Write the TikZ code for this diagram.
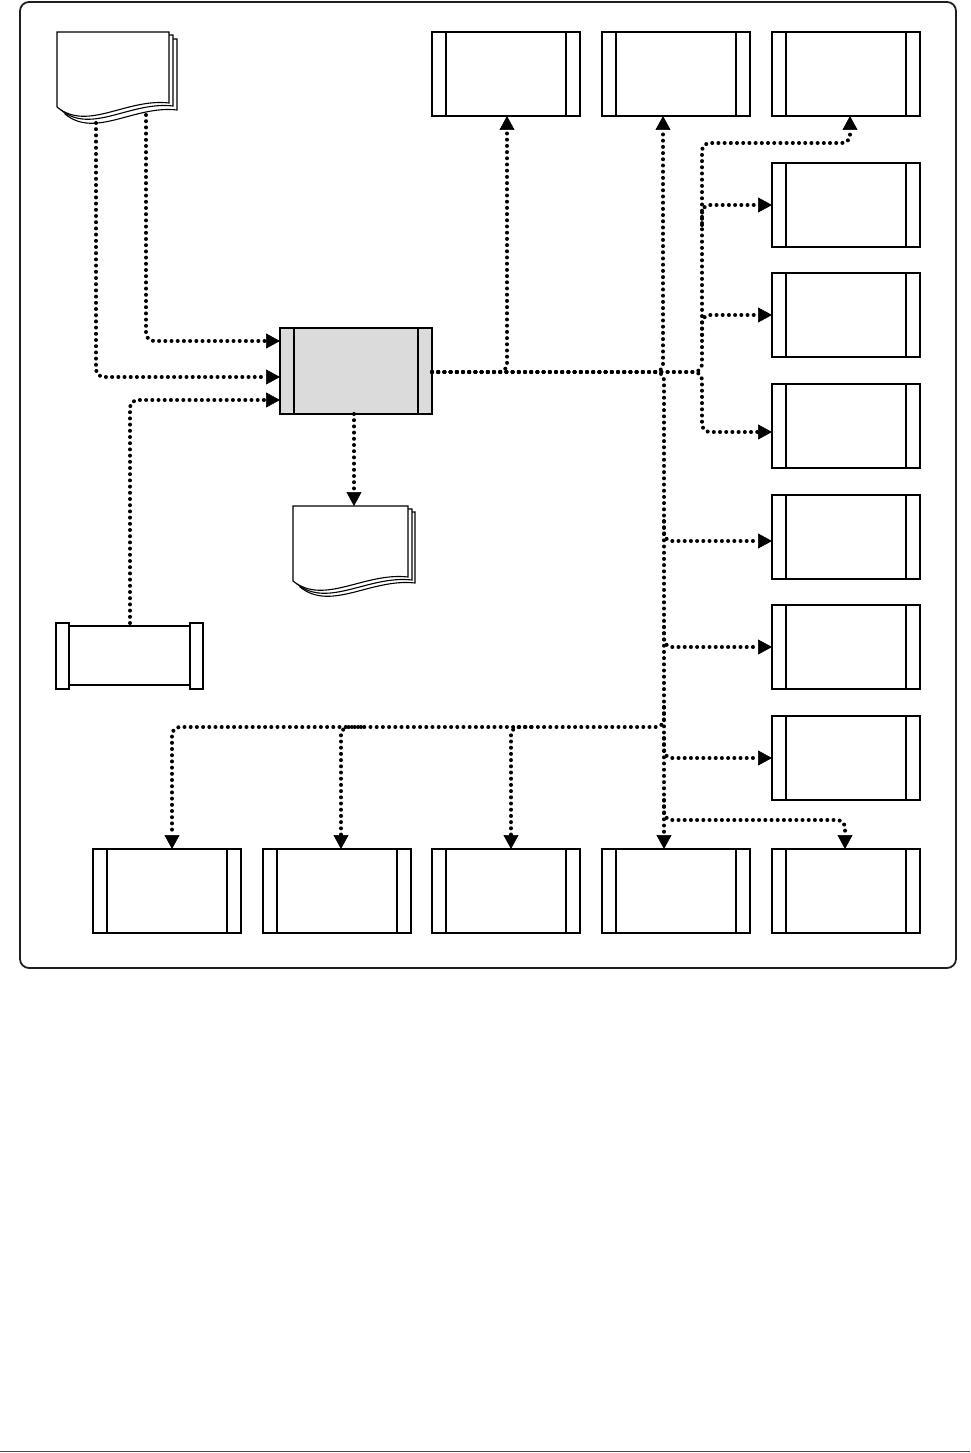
\documentclass[tikz,border=0pt]{standalone}
\usetikzlibrary{arrows.meta}
\begin{document}
\begin{tikzpicture}[x=1pt,y=-1pt,
  box/.style={draw=black, line width=1.2pt, fill=white, minimum width=148pt, minimum height=84pt,
    inner sep=0pt, outer sep=0pt,
    path picture={\draw[line width=2pt]
      ([xshift=14pt]path picture bounding box.north west) -- ([xshift=14pt]path picture bounding box.south west)
      ([xshift=-14pt]path picture bounding box.north east) -- ([xshift=-14pt]path picture bounding box.south east);}},
  conn/.style={line width=4pt, line cap=round, dash pattern=on 0pt off 6.2pt, rounded corners=8pt,
    -{Triangle[length=14pt,width=15pt,line width=0.6pt]}},
  docpage/.pic={\draw[line width=1.1pt, fill=white] (0,0) -- (#1,0) -- (#1,71)
      .. controls ({#1*0.62},66) and ({#1*0.27},100) .. (0,75) -- cycle;}]

\useasboundingbox (0,0) rectangle (970,1453);
\fill[white] (0,0) rectangle (970,1453);

% frame
\draw[line width=1.8pt, rounded corners=9pt, draw=black!88] (20,2) rectangle (956,968);
\draw[line width=1.5pt, draw=black!70] (0,1451.5) -- (970,1451.5);

% documents
\coordinate (doc1) at (57,32);
\pic at ([shift={(8pt,-7pt)}]doc1) {docpage=112};
\pic at ([shift={(4pt,-3pt)}]doc1) {docpage=112};
\pic at (doc1) {docpage=112};
\coordinate (d1a) at (96,123);
\coordinate (d1b) at (146,115);

\coordinate (doc2) at (293,506);
\pic at ([shift={(7pt,-6pt)}]doc2) {docpage=115};
\pic at ([shift={(4pt,-3pt)}]doc2) {docpage=115};
\pic at (doc2) {docpage=115};
\coordinate (d2in) at (354,506);

% central process
\node[box, fill=black!14, minimum width=152pt, minimum height=86pt] (cen) at (356,371) {};

% top row
\node[box] (t1) at (506,74) {};
\node[box] (t2) at (676,74) {};
\node[box] (t3) at (846,74) {};
% right column
\node[box] (r1) at (846,205) {};
\node[box] (r2) at (846,315) {};
\node[box] (r3) at (846,426) {};
\node[box] (r4) at (846,537) {};
\node[box] (r5) at (846,647) {};
\node[box] (r6) at (846,758) {};
% bottom row
\node[box] (b1) at (167,891) {};
\node[box] (b2) at (337,891) {};
\node[box] (b3) at (506,891) {};
\node[box] (b4) at (676,891) {};
\node[box] (b5) at (846,891) {};

% storage block
\node[draw, line width=1.2pt, fill=white, minimum width=121pt, minimum height=59pt, inner sep=0pt, outer sep=0pt] (cyl) at (129.5,655.5) {};
\draw[line width=1.2pt, fill=white] (cyl.north west) ++(-13pt,3pt) rectangle ++(13pt,-66pt);
\draw[line width=1.2pt, fill=white] (cyl.north east) ++(0pt,3pt) rectangle ++(13pt,-66pt);

% inputs
\draw[conn] (d1b) |- (cen.west |- 0,341);
\draw[conn] (d1a) |- (cen.west |- 0,377);
\draw[conn] ([yshift=3pt]cyl.north -| 130,0) |- (cen.west |- 0,400);
% output document
\draw[conn] (cen.south -| 354,0) -- (d2in);

% main bus
\draw[conn] (cen.east |- 0,372) -| (t1.south -| 507,0);
\draw[conn] (cen.east |- 0,372) -| (t2.south -| 663,0);
\draw[conn] (cen.east |- 0,372) -| (b4.north -| 664,0);
\draw[conn] (cen.east |- 0,372) -| (702,143) -| (t3.south -| 850,0);
\draw[conn] (cen.east |- 0,372) -| ([yshift=-6pt]r3.west -| 702,0) -- ([yshift=-6pt]r3.west);
\draw[conn] ([yshift=-20pt]r1.west -| 702,0) |- (r1.west);
\draw[conn] ([yshift=-20pt]r2.west -| 702,0) |- (r2.west);

% branches from vertical x=663
\draw[conn] ([yshift=16pt]r4.west -| 664,0) |- ([yshift=-4pt]r4.west);
\draw[conn] ([yshift=20pt]r5.west -| 664,0) |- (r5.west);
\draw[conn] ([yshift=20pt]r6.west -| 664,0) |- (r6.west);
\draw[conn] ([yshift=49pt]b5.north -| 664,0) |- ([yshift=29pt]b5.north -| 845,0) -- (b5.north -| 845,0);

% bottom-left bus at y=727
\draw[conn] ([yshift=142pt]b1.north -| 664,0) |- ([yshift=122pt]b1.north -| 172,0) -- (b1.north -| 172,0);
\draw[conn] ([xshift=20pt,yshift=122pt]b2.north -| 341,0) -| (b2.north -| 341,0);
\draw[conn] ([xshift=20pt,yshift=122pt]b3.north -| 511,0) -| (b3.north -| 511,0);

\end{tikzpicture}
\end{document}
